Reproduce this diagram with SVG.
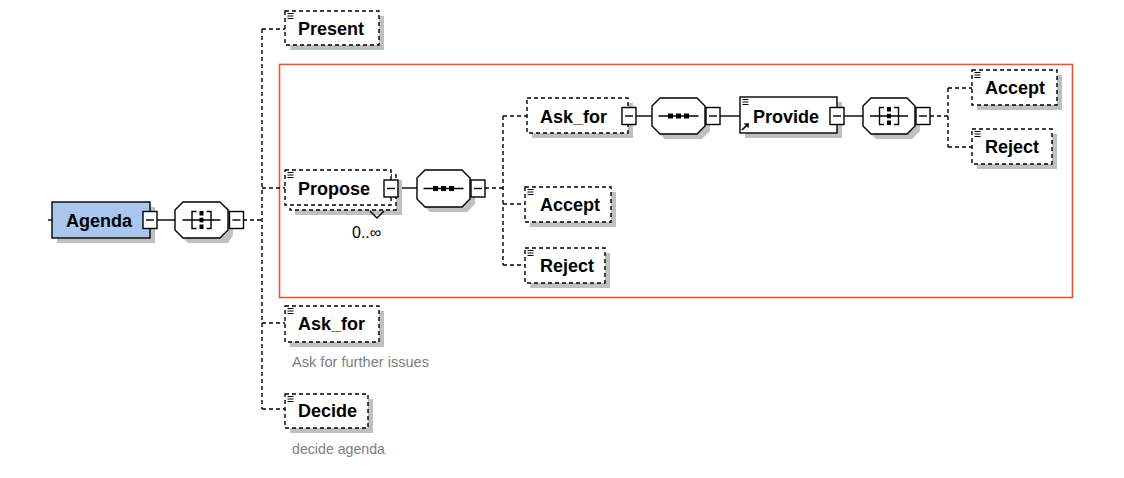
<svg xmlns="http://www.w3.org/2000/svg" xmlns:xlink="http://www.w3.org/1999/xlink" width="1124" height="478" viewBox="0 0 1124 478">
<style>
  .bg{fill:#ffffff}
  .shadow{fill:#c0c0c0;stroke:none}
  .dbox{fill:#ffffff;stroke:#000;stroke-width:1.4;stroke-dasharray:4,3}
  .sbox{fill:#ffffff;stroke:#000;stroke-width:1.4}
  .root{fill:#a8c6ee;stroke:#000;stroke-width:1.4}
  .oct{fill:#ffffff;stroke:#000;stroke-width:1.4}
  .lbl{font-family:"Liberation Sans",Arial,sans-serif;font-weight:bold;font-size:18px;fill:#000}
  .note{font-family:"Liberation Sans",Arial,sans-serif;font-size:15px;fill:#808080}
  .occ{font-family:"Liberation Sans",Arial,sans-serif;font-size:16px;fill:#000}
  .solid{stroke:#000;stroke-width:1.4;fill:none}
  .dash{stroke:#000;stroke-width:1.4;fill:none;stroke-dasharray:4,3}
  .ico{stroke:#000;stroke-width:1.4;fill:none}
</style>
<defs>
  <g id="minus">
    <rect x="0" y="0" width="14" height="17" fill="#fff" stroke="#000" stroke-width="1.4"/>
    <line x1="3" y1="8.5" x2="11" y2="8.5" stroke="#000" stroke-width="1.4"/>
  </g>
  <g id="elem">
    <line x1="0" y1="0" x2="6" y2="0" stroke="#000" stroke-width="1"/>
    <line x1="0" y1="2.5" x2="6" y2="2.5" stroke="#000" stroke-width="1"/>
    <line x1="0" y1="5" x2="6" y2="5" stroke="#000" stroke-width="1"/>
  </g>
  <g id="choice">
    <line x1="-19" y1="0" x2="19" y2="0" class="ico"/>
    <path d="M-5,-8.5 H-9.5 V8.5 H-5 M5,-8.5 H9.5 V8.5 H5" class="ico"/>
    <rect x="-2" y="-9" width="4" height="4.5" fill="#000"/>
    <rect x="-2" y="-2.2" width="4" height="4.5" fill="#000"/>
    <rect x="-2" y="4.5" width="4" height="4.5" fill="#000"/>
  </g>
  <g id="seq">
    <line x1="-20" y1="0" x2="20" y2="0" class="ico"/>
    <rect x="-10.5" y="-2.5" width="5" height="5" fill="#000"/>
    <rect x="-2.5" y="-2.5" width="5" height="5" fill="#000"/>
    <rect x="5.5" y="-2.5" width="5" height="5" fill="#000"/>
  </g>
</defs>
<rect class="bg" x="0" y="0" width="1124" height="478"/>

<!-- highlight frame -->
<rect x="279.5" y="64.5" width="793" height="233" fill="none" stroke="#e8553d" stroke-width="1.6"/>

<g id="connectors">
  <line class="solid" x1="48" y1="220" x2="52" y2="220"/>
  <line class="solid" x1="157" y1="220" x2="175" y2="220"/>
  <line class="dash" x1="243" y1="220" x2="262" y2="220"/>
  <line class="dash" x1="262" y1="29" x2="262" y2="409"/>
  <line class="dash" x1="262" y1="29" x2="285" y2="29"/>
  <line class="dash" x1="262" y1="188" x2="285" y2="188"/>
  <line class="dash" x1="262" y1="323" x2="285" y2="323"/>
  <line class="dash" x1="262" y1="409" x2="285" y2="409"/>
  <line class="solid" x1="398" y1="188" x2="417" y2="188"/>
  <line class="dash" x1="485" y1="188" x2="503" y2="188"/>
  <line class="dash" x1="503" y1="116" x2="503" y2="265"/>
  <line class="dash" x1="503" y1="116" x2="527" y2="116"/>
  <line class="dash" x1="503" y1="204" x2="525" y2="204"/>
  <line class="dash" x1="503" y1="265" x2="525" y2="265"/>
  <line class="solid" x1="636" y1="116" x2="652" y2="116"/>
  <line class="solid" x1="720" y1="116" x2="740" y2="116"/>
  <line class="solid" x1="844" y1="116" x2="863" y2="116"/>
  <line class="dash" x1="930" y1="116" x2="948" y2="116"/>
  <line class="dash" x1="948" y1="88" x2="948" y2="147"/>
  <line class="dash" x1="948" y1="88" x2="972" y2="88"/>
  <line class="dash" x1="948" y1="147" x2="972" y2="147"/>
</g>

<g id="node-agenda">
  <rect class="shadow" x="57" y="207" width="98" height="36"/>
  <rect class="root" x="52" y="202" width="98" height="36"/>
  <text class="lbl" x="66" y="226.5">Agenda</text>
  <use xlink:href="#minus" href="#minus" x="143" y="211.5"/>
</g>

<g id="node-choice1">
  <path class="shadow" d="M188,207 H228 L233,215 V235 L228,243 H188 L180,235 V215 Z"/>
  <path class="oct" d="M183,202 H220 L228,210 V230 L220,238 H183 L175,230 V210 Z"/>
  <use xlink:href="#choice" href="#choice" x="201.5" y="220"/>
  <use xlink:href="#minus" href="#minus" x="229.5" y="211.5"/>
</g>

<g id="node-present">
  <rect class="shadow" x="290" y="16" width="94" height="34"/>
  <rect class="dbox" x="285" y="11" width="94" height="34"/>
  <use xlink:href="#elem" href="#elem" x="287.5" y="13.5"/>
  <text class="lbl" x="298" y="35">Present</text>
</g>

<g id="node-propose">
  <rect class="shadow" x="295" y="180" width="107" height="35"/>
  <rect class="dbox" x="290" y="175" width="106" height="35"/>
  <rect class="dbox" x="285" y="170" width="106" height="35"/>
  <use xlink:href="#elem" href="#elem" x="287.5" y="172.5"/>
  <text class="lbl" x="298" y="195">Propose</text>
  <use xlink:href="#minus" href="#minus" x="384" y="180"/>
  <path class="solid" d="M370,211 L377,218 L384,211"/>
  <text class="occ" x="352" y="238">0..∞</text>
</g>

<g id="node-seq1">
  <path class="shadow" d="M430,175 H467 L475,183 V204 L467,212 H430 L422,204 V183 Z"/>
  <path class="oct" d="M425,170 H462 L470,178 V199 L462,207 H425 L417,199 V178 Z"/>
  <use xlink:href="#seq" href="#seq" x="443.5" y="188.5"/>
  <use xlink:href="#minus" href="#minus" x="471" y="180"/>
</g>

<g id="node-askfor-inner">
  <rect class="shadow" x="532" y="103" width="101" height="35"/>
  <rect class="dbox" x="527" y="98" width="101" height="35"/>
  <text class="lbl" x="540" y="123">Ask_for</text>
  <use xlink:href="#minus" href="#minus" x="622" y="107.5"/>
</g>

<g id="node-seq2">
  <path class="shadow" d="M665,103 H702 L710,111 V131 L702,139 H665 L657,131 V111 Z"/>
  <path class="oct" d="M660,98 H697 L705,106 V126 L697,134 H660 L652,126 V106 Z"/>
  <use xlink:href="#seq" href="#seq" x="678.5" y="116"/>
  <use xlink:href="#minus" href="#minus" x="706" y="107.5"/>
</g>

<g id="node-provide">
  <rect class="shadow" x="745" y="102" width="97" height="36"/>
  <rect class="sbox" x="740" y="97" width="97" height="36"/>
  <use xlink:href="#elem" href="#elem" x="742.5" y="99.5"/>
  <path d="M742,130 L748,124 M744.5,124 H748 V127.5" stroke="#000" stroke-width="1.6" fill="none"/>
  <text class="lbl" x="753" y="123">Provide</text>
  <use xlink:href="#minus" href="#minus" x="830" y="107.5"/>
</g>

<g id="node-choice2">
  <path class="shadow" d="M876,103 H912 L920,111 V131 L912,139 H876 L868,131 V111 Z"/>
  <path class="oct" d="M871,98 H907 L915,106 V126 L907,134 H871 L863,126 V106 Z"/>
  <use xlink:href="#choice" href="#choice" x="889" y="116"/>
  <use xlink:href="#minus" href="#minus" x="916" y="107.5"/>
</g>

<g id="node-accept-right">
  <rect class="shadow" x="977" y="75" width="85" height="35"/>
  <rect class="dbox" x="972" y="70" width="85" height="35"/>
  <use xlink:href="#elem" href="#elem" x="974.5" y="72.5"/>
  <text class="lbl" x="985" y="94">Accept</text>
</g>

<g id="node-reject-right">
  <rect class="shadow" x="977" y="134" width="80" height="35"/>
  <rect class="dbox" x="972" y="129" width="80" height="35"/>
  <use xlink:href="#elem" href="#elem" x="974.5" y="131.5"/>
  <text class="lbl" x="985" y="153">Reject</text>
</g>

<g id="node-accept-inner">
  <rect class="shadow" x="530" y="192" width="86" height="35"/>
  <rect class="dbox" x="525" y="187" width="86" height="35"/>
  <use xlink:href="#elem" href="#elem" x="527.5" y="189.5"/>
  <text class="lbl" x="540" y="211">Accept</text>
</g>

<g id="node-reject-inner">
  <rect class="shadow" x="530" y="253" width="80" height="35"/>
  <rect class="dbox" x="525" y="248" width="80" height="35"/>
  <use xlink:href="#elem" href="#elem" x="527.5" y="250.5"/>
  <text class="lbl" x="540" y="272">Reject</text>
</g>

<g id="node-askfor">
  <rect class="shadow" x="290" y="311" width="94" height="36"/>
  <rect class="dbox" x="285" y="306" width="94" height="36"/>
  <use xlink:href="#elem" href="#elem" x="287.5" y="308.5"/>
  <text class="lbl" x="298" y="330">Ask_for</text>
  <text class="note" x="292" y="367" textLength="137" lengthAdjust="spacingAndGlyphs">Ask for further issues</text>
</g>

<g id="node-decide">
  <rect class="shadow" x="290" y="399" width="83" height="34"/>
  <rect class="dbox" x="285" y="394" width="83" height="34"/>
  <use xlink:href="#elem" href="#elem" x="287.5" y="396.5"/>
  <text class="lbl" x="298" y="417">Decide</text>
  <text class="note" x="292" y="454" textLength="93" lengthAdjust="spacingAndGlyphs">decide agenda</text>
</g>
</svg>
